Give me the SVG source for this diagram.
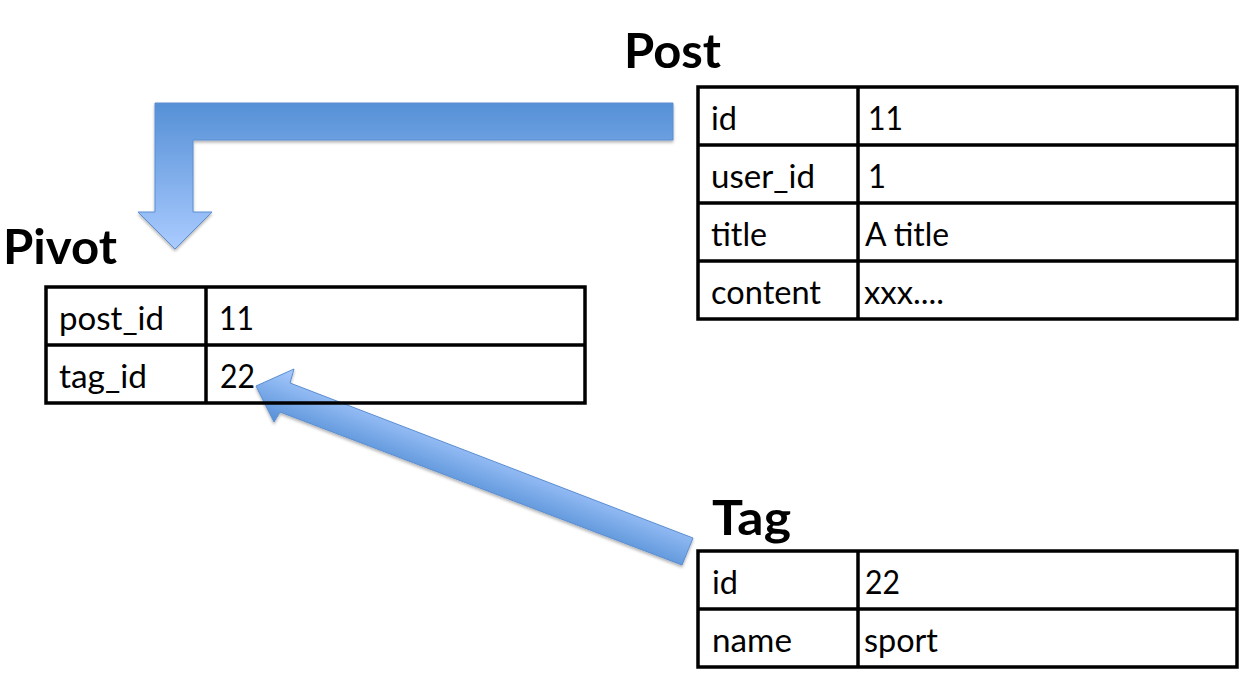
<svg xmlns="http://www.w3.org/2000/svg" width="1248" height="679" viewBox="0 0 1248 679">
<style>
.cell{fill:none;stroke:#000;stroke-width:3.5}
.t{font-family:Lato,"Open Sans","Liberation Sans",sans-serif;font-size:32px;fill:#000}
.h{font-family:Lato,"Open Sans","Liberation Sans",sans-serif;font-size:48px;font-weight:bold;fill:#000}
.arrow{stroke:#5b8ed2;stroke-width:1;stroke-linejoin:miter}
</style>
<defs>
<linearGradient id="gBent" gradientUnits="userSpaceOnUse" x1="0" y1="103" x2="0" y2="249">
<stop offset="0" stop-color="#5590d6"/>
<stop offset="1" stop-color="#aacbff"/>
</linearGradient>
<linearGradient id="gDiag" gradientUnits="userSpaceOnUse" x1="274" y1="422" x2="294" y2="369">
<stop offset="0" stop-color="#5590d6"/>
<stop offset="1" stop-color="#aacbff"/>
</linearGradient>
<filter id="shadow" x="-10%" y="-10%" width="120%" height="130%">
<feDropShadow dx="0" dy="2" stdDeviation="1.5" flood-color="#000" flood-opacity="0.3"/>
</filter>
</defs>
<rect width="1248" height="679" fill="#fff"/>

<g id="connectors">
<polygon id="arrow-post-pivot" class="arrow" fill="url(#gBent)" filter="url(#shadow)" points="155,103 673,103 673,140 193,140 193,212 212,212 175,249 138,212 155,212"/>
<polygon id="arrow-tag-pivot" class="arrow" fill="url(#gDiag)" filter="url(#shadow)" points="693,538 682,565 280,412 274,422 256,386 294,369 290,383"/>
</g>

<g id="post">
<text class="h" x="624" y="68" textLength="97" lengthAdjust="spacingAndGlyphs">Post</text>
<rect class="cell" x="698" y="87" width="539" height="232"/>
<line class="cell" x1="698" y1="145" x2="1237" y2="145"/>
<line class="cell" x1="698" y1="203" x2="1237" y2="203"/>
<line class="cell" x1="698" y1="261" x2="1237" y2="261"/>
<line class="cell" x1="858" y1="87" x2="858" y2="319"/>
<text class="t" x="711" y="130" textLength="26" lengthAdjust="spacingAndGlyphs">id</text>
<text class="t" x="868" y="130" textLength="35" lengthAdjust="spacingAndGlyphs">11</text>
<text class="t" x="711" y="188" textLength="104" lengthAdjust="spacingAndGlyphs">user_id</text>
<text class="t" x="868" y="188" textLength="18" lengthAdjust="spacingAndGlyphs">1</text>
<text class="t" x="711" y="246" textLength="56" lengthAdjust="spacingAndGlyphs">title</text>
<text class="t" x="865" y="246" textLength="84" lengthAdjust="spacingAndGlyphs">A title</text>
<text class="t" x="711" y="304" textLength="110" lengthAdjust="spacingAndGlyphs">content</text>
<text class="t" x="864" y="304" textLength="80" lengthAdjust="spacingAndGlyphs">xxx....</text>
</g>

<g id="pivot">
<text class="h" x="3" y="264" textLength="114" lengthAdjust="spacingAndGlyphs">Pivot</text>
<rect class="cell" x="46" y="287" width="539" height="116"/>
<line class="cell" x1="46" y1="345" x2="585" y2="345"/>
<line class="cell" x1="206" y1="287" x2="206" y2="403"/>
<text class="t" x="59" y="330" textLength="105" lengthAdjust="spacingAndGlyphs">post_id</text>
<text class="t" x="219" y="330" textLength="35" lengthAdjust="spacingAndGlyphs">11</text>
<text class="t" x="59" y="388" textLength="88" lengthAdjust="spacingAndGlyphs">tag_id</text>
<text class="t" x="220" y="388" textLength="35" lengthAdjust="spacingAndGlyphs">22</text>
</g>

<g id="tag">
<text class="h" x="712" y="535" textLength="79" lengthAdjust="spacingAndGlyphs">Tag</text>
<rect class="cell" x="698" y="551" width="539" height="116"/>
<line class="cell" x1="698" y1="609" x2="1237" y2="609"/>
<line class="cell" x1="858" y1="551" x2="858" y2="667"/>
<text class="t" x="712" y="594" textLength="26" lengthAdjust="spacingAndGlyphs">id</text>
<text class="t" x="865" y="594" textLength="35" lengthAdjust="spacingAndGlyphs">22</text>
<text class="t" x="712" y="652" textLength="80" lengthAdjust="spacingAndGlyphs">name</text>
<text class="t" x="864" y="652" textLength="74" lengthAdjust="spacingAndGlyphs">sport</text>
</g>
</svg>
